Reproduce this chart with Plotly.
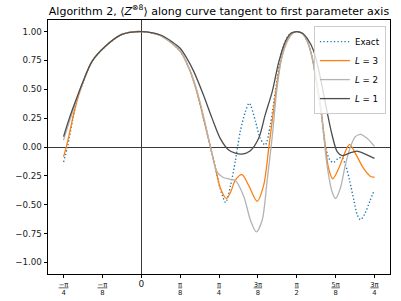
import numpy as np
import plotly.graph_objects as go

# positions along the curve, in units of pi/8
exact_u = [-2, -1.9, -1.7, -1.5, -1.27, -0.93, -0.5, 0, 0.5, 1.0, 1.26, 1.43, 1.6, 1.78, 1.91, 2.03, 2.17, 2.3,
           2.42, 2.55, 2.68, 2.78, 2.94, 3.06, 3.19, 3.32, 3.45, 3.62, 3.8, 4.0, 4.15, 4.27, 4.40, 4.52, 4.63,
           4.74, 4.85, 4.94, 5.06, 5.16, 5.26, 5.36, 5.47, 5.56, 5.64, 5.75, 5.88, 6.0]
exact_v = [-0.13, 0.0, 0.34, 0.56, 0.74, 0.87, 0.975, 1.0, 0.965, 0.83, 0.655, 0.48, 0.25, 0.0, -0.185, -0.36,
           -0.48, -0.33, -0.12, 0.14, 0.307, 0.38, 0.22, 0.075, 0.017, 0.19, 0.48, 0.83, 0.97, 1.0, 0.98, 0.916,
           0.77, 0.54, 0.307, 0.0, -0.11, -0.135, -0.1, -0.09, -0.16, -0.29, -0.46, -0.59, -0.63, -0.58, -0.47, -0.37]

l3_u = [-2, -1.9, -1.7, -1.5, -1.27, -0.93, -0.5, 0, 0.5, 1.0, 1.26, 1.43, 1.6, 1.78, 1.91, 2.03, 2.19, 2.3,
        2.42, 2.59, 2.76, 2.98, 3.15, 3.28, 3.41, 3.54, 3.71, 3.85, 4.0, 4.15, 4.27, 4.40, 4.52, 4.63, 4.74,
        4.82, 4.93, 5.08, 5.25, 5.36, 5.51, 5.72, 5.9, 6.0]
l3_v = [-0.085, 0.04, 0.34, 0.56, 0.74, 0.87, 0.975, 1.0, 0.965, 0.83, 0.655, 0.48, 0.25, 0.0, -0.185, -0.35,
        -0.445, -0.39, -0.287, -0.24, -0.33, -0.47, -0.33, -0.01, 0.337, 0.655, 0.887, 0.975, 1.0, 0.98, 0.916,
        0.77, 0.54, 0.307, 0.0, -0.186, -0.275, -0.186, -0.04, 0.023, -0.055, -0.186, -0.255, -0.262]

l2_u = [-2, -1.85, -1.7, -1.5, -1.27, -0.93, -0.5, 0, 0.5, 1.0, 1.26, 1.43, 1.6, 1.78, 1.95, 2.1, 2.27, 2.42,
        2.64, 2.81, 2.96, 3.11, 3.24, 3.37, 3.49, 3.62, 3.78, 3.9, 4.0, 4.15, 4.27, 4.40, 4.52, 4.63, 4.78,
        4.91, 5.0, 5.12, 5.25, 5.38, 5.51, 5.64, 5.81, 6.0]
l2_v = [0.06, 0.22, 0.37, 0.565, 0.74, 0.87, 0.975, 1.0, 0.965, 0.83, 0.66, 0.49, 0.27, 0.0, -0.215, -0.262,
        -0.278, -0.29, -0.43, -0.635, -0.736, -0.635, -0.287, 0.09, 0.5, 0.78, 0.93, 0.985, 1.0, 0.98, 0.916,
        0.77, 0.54, 0.3, -0.157, -0.388, -0.446, -0.36, -0.157, 0.0, 0.09, 0.11, 0.075, 0.005]

l1_u = [-2, -1.85, -1.7, -1.5, -1.27, -0.93, -0.5, 0, 0.5, 0.8, 1.0, 1.17, 1.35, 1.6, 1.82, 2.03, 2.25, 2.4,
        2.59, 2.8, 3.02, 3.19, 3.37, 3.54, 3.71, 3.85, 4.0, 4.15, 4.27, 4.44, 4.61, 4.78, 4.91, 5.04, 5.17,
        5.34, 5.55, 5.72, 6.0]
l1_v = [0.09, 0.25, 0.39, 0.565, 0.74, 0.87, 0.975, 1.0, 0.97, 0.91, 0.855, 0.77, 0.655, 0.45, 0.25, 0.075,
        -0.026, -0.05, -0.061, -0.035, 0.075, 0.28, 0.48, 0.74, 0.916, 0.985, 1.0, 0.985, 0.94, 0.83, 0.597,
        0.307, 0.104, -0.04, -0.075, -0.055, -0.035, -0.055, -0.098]

x_tick_u = [-2, -1, 0, 1, 2, 3, 4, 5, 6]
x_tick_num = ["\u2212\u03c0", "\u2212\u03c0", None, "\u03c0", "\u03c0", "3\u03c0", "\u03c0", "5\u03c0", "3\u03c0"]
x_tick_den = ["4", "8", None, "8", "4", "8", "2", "8", "4"]
y_ticks = [1.0, 0.75, 0.5, 0.25, 0.0, -0.25, -0.5, -0.75, -1.0]

q = np.pi / 8


def frac(n, d):
    if n is None:
        return "<span style='font-size:9px'>0</span>"
    return "<span style='text-decoration:underline'>" + n + "</span><br>" + d


fig = go.Figure()
series = [
    (exact_u, exact_v, "Exact", "#1f77b4", "1.3px,2.2px", 1.4),
    (l3_u, l3_v, "<i>L</i> = 3", "#ff7f0e", "solid", 1.3),
    (l2_u, l2_v, "<i>L</i> = 2", "#b3b3b3", "solid", 1.3),
    (l1_u, l1_v, "<i>L</i> = 1", "#4d4d4d", "solid", 1.3),
]
for u, v, name, color, dash, w in series:
    fig.add_trace(go.Scatter(
        x=np.array(u) * q, y=v, mode="lines", name=name,
        line=dict(color=color, dash=dash, width=w, shape="spline", smoothing=0.8),
    ))

fig.update_layout(
    width=401, height=301,
    margin=dict(l=48, r=11, t=20, b=27),
    paper_bgcolor="white", plot_bgcolor="white",
    font=dict(family="DejaVu Sans", size=9, color="#222222"),
    title=dict(text="Algorithm 2, \u27e8<i>Z</i><sup>\u22978</sup>\u27e9 along curve tangent to first parameter axis",
               x=0.5, xref="paper", xanchor="center", y=0.963, yanchor="middle",
               font=dict(size=11.0, family="DejaVu Sans", color="black")),
    showlegend=True,
    legend=dict(x=0.988, xanchor="right", y=0.976, yanchor="top",
                bgcolor="rgba(255,255,255,0.8)", bordercolor="#cccccc", borderwidth=1,
                font=dict(size=8.7, color="black"), tracegroupgap=0, itemwidth=30),
)
fig.update_xaxes(
    automargin=False,
    range=[-0.3 * np.pi, 0.8 * np.pi],
    tickvals=[t * q for t in x_tick_u],
    ticktext=[frac(n, d) for n, d in zip(x_tick_num, x_tick_den)],
    tickfont=dict(size=6.8, color="#222222"),
    ticks="outside", ticklen=3.5, tickwidth=0.8, tickcolor="black",
    showline=True, linecolor="black", linewidth=0.8, mirror=True,
    showgrid=False, zeroline=True, zerolinecolor="#3a3a3a", zerolinewidth=1.1,
)
fig.update_yaxes(
    automargin=False,
    range=[-1.1, 1.1],
    tickvals=y_ticks,
    ticktext=[("\u2212" if t < 0 else "") + f"{abs(t):.2f}" for t in y_ticks],
    tickfont=dict(size=8.7, color="#222222"),
    ticks="outside", ticklen=3.5, tickwidth=0.8, tickcolor="black",
    showline=True, linecolor="black", linewidth=0.8, mirror=True,
    showgrid=False, zeroline=True, zerolinecolor="#3a3a3a", zerolinewidth=1.1,
)
fig.write_html("out.html", config={"displayModeBar": False},
               post_script="document.body.style.margin='0';document.body.style.padding='0';")
